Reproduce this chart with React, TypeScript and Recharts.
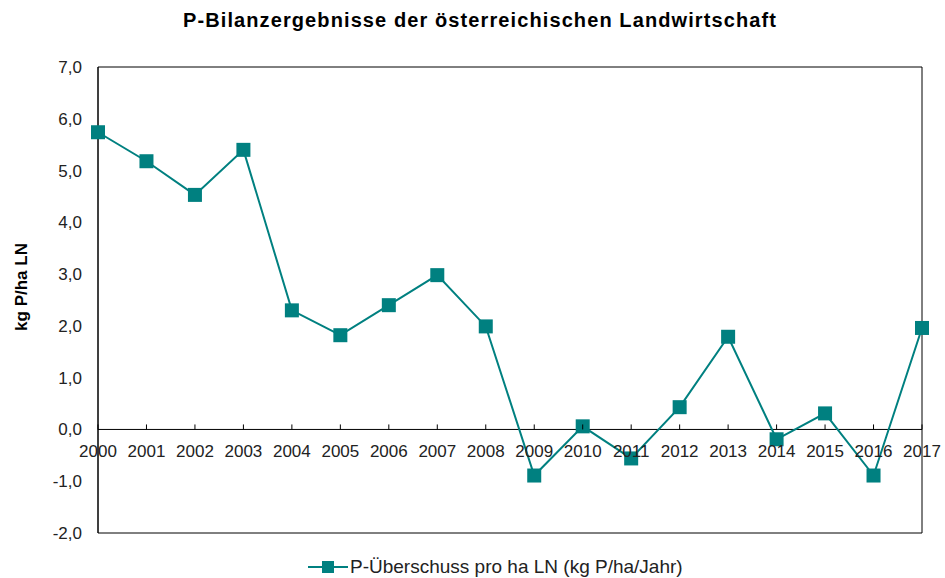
import React from "react";
import {
  LineChart,
  Line,
  XAxis,
  YAxis,
  ReferenceLine,
  ReferenceArea,
} from "recharts";

// ── Data ─────────────────────────────────────────────────────
const YEARS = [
  "2000", "2001", "2002", "2003", "2004", "2005", "2006", "2007", "2008",
  "2009", "2010", "2011", "2012", "2013", "2014", "2015", "2016", "2017",
];
const P_SURPLUS = [
  5.74, 5.18, 4.53, 5.4, 2.3, 1.82, 2.4, 2.98, 1.99,
  -0.89, 0.06, -0.56, 0.43, 1.79, -0.19, 0.31, -0.89, 1.96,
];
const Y_TICKS = [-2, -1, 0, 1, 2, 3, 4, 5, 6, 7];

const TITLE = "P-Bilanzergebnisse der österreichischen Landwirtschaft";
const Y_LABEL = "kg P/ha LN";
const SERIES_NAME = "P-Überschuss pro ha LN (kg P/ha/Jahr)";

// ── Layout ───────────────────────────────────────────────────
const W = 945;
const H = 578;
const TEAL = "#008080";
const FONT = "'Liberation Sans', Arial, sans-serif";
const MARGIN = { top: 67, right: 23, bottom: 44, left: 38 };
const Y_AXIS_W = 60;
const X_AXIS_H = 1;
const Y_MIN = -2;
const Y_MAX = 7;

const plotTop = MARGIN.top;
const plotHeight = H - MARGIN.top - MARGIN.bottom - X_AXIS_H;
const zeroY = plotTop + ((Y_MAX - 0) / (Y_MAX - Y_MIN)) * plotHeight;

const data = YEARS.map((year, i) => ({ year, value: P_SURPLUS[i] }));

const fmt = (v: number) => v.toFixed(1).replace(".", ",");

// ── Custom pieces ────────────────────────────────────────────

// x labels sit on the zero line, with small ticks pointing up
// eslint-disable-next-line @typescript-eslint/no-explicit-any
function YearTick(props: any) {
  const { x, payload } = props as { x: number; payload: { value: string } };
  return (
    <g>
      <line x1={x} x2={x} y1={zeroY - 5} y2={zeroY} stroke="#000" strokeWidth={1} />
      <text
        x={x}
        y={zeroY + 28}
        textAnchor="middle"
        fill="#222"
        fontSize={17}
        fontFamily={FONT}
      >
        {payload.value}
      </text>
    </g>
  );
}

// eslint-disable-next-line @typescript-eslint/no-explicit-any
function SquareDot(props: any) {
  const { cx, cy } = props as { cx: number; cy: number };
  if (cx == null || cy == null) return null;
  return <rect x={cx - 7} y={cy - 7} width={14} height={14} fill={TEAL} />;
}

// ── Main ─────────────────────────────────────────────────────

export default function App() {
  return (
    <div
      style={{
        position: "fixed",
        left: 0,
        top: 0,
        width: W,
        height: H,
        background: "#fff",
        overflow: "hidden",
      }}
    >
      <div
        style={{
          position: "absolute",
          left: 0,
          width: 960,
          top: 9,
          textAlign: "center",
          fontFamily: FONT,
          fontWeight: 700,
          fontSize: 20,
          letterSpacing: 1.1,
          color: "#000",
        }}
      >
        {TITLE}
      </div>

      <div
        style={{
          position: "absolute",
          left: 22,
          top: 287,
          transform: "translate(-50%, -50%) rotate(-90deg)",
          fontFamily: FONT,
          fontWeight: 700,
          fontSize: 17,
          color: "#000",
          whiteSpace: "nowrap",
        }}
      >
        {Y_LABEL}
      </div>

      <LineChart width={W} height={H} data={data} margin={MARGIN}>
        <ReferenceArea
          x1={YEARS[0]}
          x2={YEARS[YEARS.length - 1]}
          y1={Y_MIN}
          y2={Y_MAX}
          fill="none"
          stroke="#000"
          strokeWidth={1}
        />
        <ReferenceLine y={0} stroke="#000" strokeWidth={1} />
        <XAxis
          dataKey="year"
          height={X_AXIS_H}
          axisLine={false}
          tickLine={false}
          tick={YearTick}
          interval={0}
          padding={{ left: 0, right: 0 }}
        />
        <YAxis
          width={Y_AXIS_W}
          domain={[Y_MIN, Y_MAX]}
          ticks={Y_TICKS}
          tickFormatter={fmt}
          axisLine={{ stroke: "#000" }}
          tickLine={false}
          tick={{ fill: "#222", fontSize: 17, fontFamily: FONT }}
          tickMargin={10}
        />
        <Line
          dataKey="value"
          stroke={TEAL}
          strokeWidth={2}
          dot={SquareDot}
          activeDot={false}
          isAnimationActive={false}
        />
      </LineChart>

      <div
        style={{
          position: "absolute",
          left: 308,
          top: 556,
          display: "flex",
          alignItems: "center",
          fontFamily: FONT,
          fontSize: 19,
          color: "#222",
          whiteSpace: "nowrap",
        }}
      >
        <svg width={40} height={14} style={{ marginRight: 2 }}>
          <line x1={0} x2={40} y1={7} y2={7} stroke={TEAL} strokeWidth={2} />
          <rect x={14} y={1} width={12} height={12} fill={TEAL} />
        </svg>
        {SERIES_NAME}
      </div>
    </div>
  );
}
